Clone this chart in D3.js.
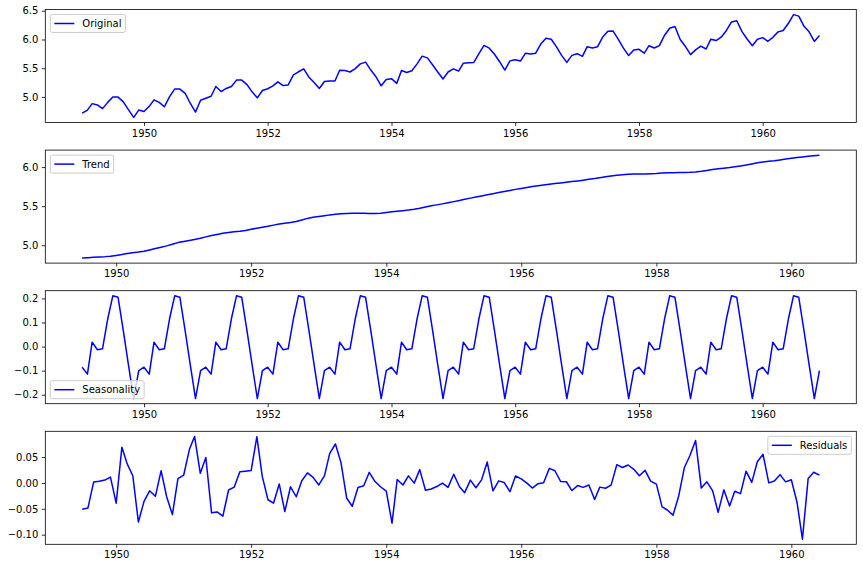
<!DOCTYPE html>
<html>
<head>
<meta charset="utf-8">
<script src="https://cdn.jsdelivr.net/npm/d3@7"></script>
<style>
  body { margin: 0; background: #fff; }
  svg { display: block; font-family: "DejaVu Sans", sans-serif; }
</style>
</head>
<body>
<script>
// log(AirPassengers), monthly 1949-01 .. 1960-12
const original = [
  4.718, 4.771, 4.883, 4.860, 4.796, 4.905, 4.997, 4.997, 4.913, 4.779, 4.644, 4.771,
  4.745, 4.836, 4.949, 4.905, 4.828, 5.004, 5.136, 5.136, 5.063, 4.890, 4.736, 4.942,
  4.977, 5.011, 5.182, 5.094, 5.147, 5.182, 5.293, 5.293, 5.215, 5.088, 4.984, 5.112,
  5.142, 5.193, 5.263, 5.198, 5.209, 5.384, 5.438, 5.489, 5.342, 5.252, 5.147, 5.268,
  5.278, 5.278, 5.464, 5.460, 5.434, 5.493, 5.576, 5.606, 5.468, 5.352, 5.193, 5.303,
  5.318, 5.236, 5.460, 5.425, 5.455, 5.576, 5.710, 5.680, 5.557, 5.434, 5.313, 5.434,
  5.489, 5.451, 5.587, 5.595, 5.598, 5.753, 5.897, 5.849, 5.743, 5.613, 5.468, 5.628,
  5.649, 5.624, 5.759, 5.746, 5.762, 5.924, 6.023, 6.004, 5.872, 5.724, 5.602, 5.724,
  5.753, 5.707, 5.875, 5.852, 5.872, 6.045, 6.142, 6.146, 6.001, 5.849, 5.720, 5.817,
  5.829, 5.762, 5.892, 5.852, 5.894, 6.075, 6.196, 6.225, 6.001, 5.883, 5.737, 5.820,
  5.886, 5.835, 6.006, 5.981, 6.040, 6.157, 6.306, 6.326, 6.138, 6.009, 5.892, 6.004,
  6.033, 5.969, 6.038, 6.133, 6.157, 6.282, 6.433, 6.407, 6.230, 6.133, 5.966, 6.068
];

const trend = [
  null, null, null, null, null, null, 4.8373, 4.8411, 4.8465, 4.8512, 4.8544, 4.8598,
  4.8698, 4.8813, 4.8934, 4.9043, 4.9127, 4.9237, 4.9405, 4.9574, 4.9744, 4.9920, 5.0132, 5.0339,
  5.0478, 5.0609, 5.0738, 5.0884, 5.1070, 5.1244, 5.1383, 5.1528, 5.1638, 5.1715, 5.1784, 5.1894,
  5.2038, 5.2180, 5.2315, 5.2436, 5.2573, 5.2705, 5.2827, 5.2919, 5.3038, 5.3231, 5.3434, 5.3573,
  5.3676, 5.3783, 5.3884, 5.3978, 5.4039, 5.4073, 5.4104, 5.4103, 5.4084, 5.4068, 5.4062, 5.4105,
  5.4195, 5.4282, 5.4350, 5.4421, 5.4505, 5.4610, 5.4736, 5.4897, 5.5039, 5.5163, 5.5293, 5.5427,
  5.5578, 5.5727, 5.5875, 5.6027, 5.6166, 5.6311, 5.6459, 5.6598, 5.6741, 5.6876, 5.7007, 5.7147,
  5.7270, 5.7388, 5.7506, 5.7606, 5.7708, 5.7804, 5.7887, 5.7965, 5.8048, 5.8140, 5.8230, 5.8327,
  5.8427, 5.8535, 5.8648, 5.8754, 5.8855, 5.8943, 5.9014, 5.9068, 5.9098, 5.9105, 5.9115, 5.9136,
  5.9171, 5.9227, 5.9260, 5.9274, 5.9295, 5.9303, 5.9328, 5.9383, 5.9460, 5.9562, 5.9676, 5.9771,
  5.9851, 5.9939, 6.0038, 6.0148, 6.0265, 6.0406, 6.0544, 6.0661, 6.0730, 6.0807, 6.0919, 6.1020,
  6.1125, 6.1212, 6.1284, 6.1374, 6.1456, 6.1514, null, null, null, null, null, null
];

const seasonal = [
  -0.0857, -0.1144, 0.0183, -0.0131, -0.0092, 0.1154, 0.2107, 0.2045, 0.0649, -0.0753, -0.2159, -0.1001,
  -0.0857, -0.1144, 0.0183, -0.0131, -0.0092, 0.1154, 0.2107, 0.2045, 0.0649, -0.0753, -0.2159, -0.1001,
  -0.0857, -0.1144, 0.0183, -0.0131, -0.0092, 0.1154, 0.2107, 0.2045, 0.0649, -0.0753, -0.2159, -0.1001,
  -0.0857, -0.1144, 0.0183, -0.0131, -0.0092, 0.1154, 0.2107, 0.2045, 0.0649, -0.0753, -0.2159, -0.1001,
  -0.0857, -0.1144, 0.0183, -0.0131, -0.0092, 0.1154, 0.2107, 0.2045, 0.0649, -0.0753, -0.2159, -0.1001,
  -0.0857, -0.1144, 0.0183, -0.0131, -0.0092, 0.1154, 0.2107, 0.2045, 0.0649, -0.0753, -0.2159, -0.1001,
  -0.0857, -0.1144, 0.0183, -0.0131, -0.0092, 0.1154, 0.2107, 0.2045, 0.0649, -0.0753, -0.2159, -0.1001,
  -0.0857, -0.1144, 0.0183, -0.0131, -0.0092, 0.1154, 0.2107, 0.2045, 0.0649, -0.0753, -0.2159, -0.1001,
  -0.0857, -0.1144, 0.0183, -0.0131, -0.0092, 0.1154, 0.2107, 0.2045, 0.0649, -0.0753, -0.2159, -0.1001,
  -0.0857, -0.1144, 0.0183, -0.0131, -0.0092, 0.1154, 0.2107, 0.2045, 0.0649, -0.0753, -0.2159, -0.1001,
  -0.0857, -0.1144, 0.0183, -0.0131, -0.0092, 0.1154, 0.2107, 0.2045, 0.0649, -0.0753, -0.2159, -0.1001,
  -0.0857, -0.1144, 0.0183, -0.0131, -0.0092, 0.1154, 0.2107, 0.2045, 0.0649, -0.0753, -0.2159, -0.1001
];

const residual = [
  null, null, null, null, null, null, -0.0510, -0.0486, 0.0016, 0.0031, 0.0055, 0.0113,
  -0.0391, 0.0691, 0.0373, 0.0138, -0.0755, -0.0351, -0.0152, -0.0259, 0.0237, -0.0267, -0.0613, 0.0082,
  0.0149, 0.0645, 0.0899, 0.0187, 0.0492, -0.0578, -0.0560, -0.0643, -0.0137, -0.0082, 0.0215, 0.0227,
  0.0239, 0.0894, 0.0132, -0.0325, -0.0391, -0.0019, -0.0554, -0.0074, -0.0267, 0.0042, 0.0195, 0.0108,
  -0.0039, 0.0141, 0.0573, 0.0753, 0.0393, -0.0297, -0.0451, -0.0088, -0.0053, 0.0205, 0.0027, -0.0074,
  -0.0158, -0.0778, 0.0067, -0.0040, 0.0137, -0.0004, 0.0257, -0.0142, -0.0118, -0.0070, -0.0004, -0.0086,
  0.0169, -0.0073, -0.0188, 0.0054, -0.0094, 0.0065, 0.0404, -0.0153, 0.0040, 0.0007, -0.0168, 0.0134,
  0.0077, -0.0004, -0.0099, -0.0015, 0.0004, 0.0282, 0.0236, 0.0030, 0.0023, -0.0147, -0.0051, -0.0086,
  -0.0040, -0.0321, -0.0081, -0.0103, -0.0043, 0.0353, 0.0299, 0.0347, 0.0263, 0.0138, 0.0244, 0.0035,
  -0.0024, -0.0463, -0.0523, -0.0623, -0.0263, 0.0293, 0.0525, 0.0822, -0.0099, 0.0021, -0.0147, -0.0570,
  -0.0134, -0.0445, -0.0161, -0.0207, 0.0227, 0.0010, 0.0409, 0.0554, 0.0001, 0.0036, 0.0160, 0.0021,
  0.0062, -0.0378, -0.1087, 0.0087, 0.0206, 0.0152, null, null, null, null, null, null
];

const xTickYears = [1950, 1952, 1954, 1956, 1958, 1960];
const originalTicks = [5.0, 5.5, 6.0, 6.5];
const trendTicks = [5.0, 5.5, 6.0];
const seasonalTicks = [-0.2, -0.1, 0.0, 0.1, 0.2];
const residualTicks = [-0.10, -0.05, 0.00, 0.05];

const width = 863, height = 568;
const left = 45.3, right = 856.3;
const panelTop = 9.5, panelStep = 140.6, panelHeight = 113;

const months = d3.timeMonth.range(new Date(1949, 0, 1), new Date(1961, 0, 1));

const panels = [
  { name: "Original", values: original, ticks: originalTicks, fmt: ".1f", loc: "upper left" },
  { name: "Trend", values: trend, ticks: trendTicks, fmt: ".1f", loc: "upper left" },
  { name: "Seasonality", values: seasonal, ticks: seasonalTicks, fmt: ".1f", loc: "lower left" },
  { name: "Residuals", values: residual, ticks: residualTicks, fmt: ".2f", loc: "upper right" }
];

const svg = d3.select("body")
  .append("svg")
  .attr("width", width)
  .attr("height", height);

svg.append("rect")
  .attr("width", width)
  .attr("height", height)
  .attr("fill", "#fff");

// pad an extent by 5% on each side, like matplotlib's default margins
function padExtent(ext) {
  const m = (ext[1] - ext[0]) * 0.05;
  return [ext[0] - m, ext[1] + m];
}

panels.forEach(function(p, i) {
  const top = panelTop + i * panelStep;
  const bottom = top + panelHeight;

  const data = months.map(function(d, j) { return { date: d, value: p.values[j] }; })
    .filter(function(d) { return d.value != null; });

  const tExt = d3.extent(data, function(d) { return +d.date; });
  const x = d3.scaleTime()
    .domain(padExtent(tExt).map(function(t) { return new Date(t); }))
    .range([left, right]);

  const y = d3.scaleLinear()
    .domain(padExtent(d3.extent(data, function(d) { return d.value; })))
    .range([bottom, top]);

  const g = svg.append("g").attr("class", "panel");

  // axes
  const xAxis = g.append("g")
    .attr("transform", "translate(0," + bottom + ")")
    .call(d3.axisBottom(x)
      .tickValues(xTickYears.map(function(yr) { return new Date(yr, 0, 1); }))
      .tickFormat(d3.timeFormat("%Y"))
      .tickSizeInner(3.5)
      .tickSizeOuter(0)
      .tickPadding(3.5));

  const yAxis = g.append("g")
    .attr("transform", "translate(" + left + ",0)")
    .call(d3.axisLeft(y)
      .tickValues(p.ticks)
      .tickFormat(d3.format(p.fmt))
      .tickSizeInner(3.5)
      .tickSizeOuter(0)
      .tickPadding(3.5));

  [xAxis, yAxis].forEach(function(a) {
    a.select(".domain").remove();
    a.selectAll("line").attr("stroke", "#000").attr("stroke-width", 0.8);
    a.selectAll("text")
      .attr("fill", "#000")
      .style("font-size", "10px")
      .style("font-family", "'DejaVu Sans', sans-serif");
  });

  // series line
  const clipId = "clip" + i;
  g.append("clipPath")
    .attr("id", clipId)
    .append("rect")
    .attr("x", left).attr("y", top)
    .attr("width", right - left).attr("height", bottom - top);

  const line = d3.line()
    .x(function(d) { return x(d.date); })
    .y(function(d) { return y(d.value); });

  g.append("path")
    .datum(data)
    .attr("clip-path", "url(#" + clipId + ")")
    .attr("fill", "none")
    .attr("stroke", "#0000ff")
    .attr("stroke-width", 1.5)
    .attr("stroke-linejoin", "round")
    .attr("d", line);

  // frame
  g.append("rect")
    .attr("x", left).attr("y", top)
    .attr("width", right - left).attr("height", bottom - top)
    .attr("fill", "none")
    .attr("stroke", "#000")
    .attr("stroke-width", 0.8);

  /* ------- LEGEND -------*/
  const legend = g.append("g").attr("class", "legend");
  const box = legend.append("rect")
    .attr("rx", 2).attr("ry", 2)
    .attr("fill", "#fff")
    .attr("fill-opacity", 0.8)
    .attr("stroke", "#cccccc")
    .attr("stroke-width", 1);
  const label = legend.append("text")
    .attr("x", 32)
    .attr("y", 9)
    .attr("dy", "0.35em")
    .attr("fill", "#000")
    .style("font-size", "10px")
    .text(p.name);
  legend.append("line")
    .attr("x1", 4).attr("x2", 24)
    .attr("y1", 9).attr("y2", 9)
    .attr("stroke", "#0000ff")
    .attr("stroke-width", 1.5);

  const boxW = 32 + label.node().getComputedTextLength() + 4;
  const boxH = 18;
  box.attr("width", boxW).attr("height", boxH);

  let lx = left + 5, ly = top + 5;
  if (p.loc === "lower left") ly = bottom - 5 - boxH;
  if (p.loc === "upper right") lx = right - 5 - boxW;
  legend.attr("transform", "translate(" + lx + "," + ly + ")");
});
</script>
</body>
</html>
